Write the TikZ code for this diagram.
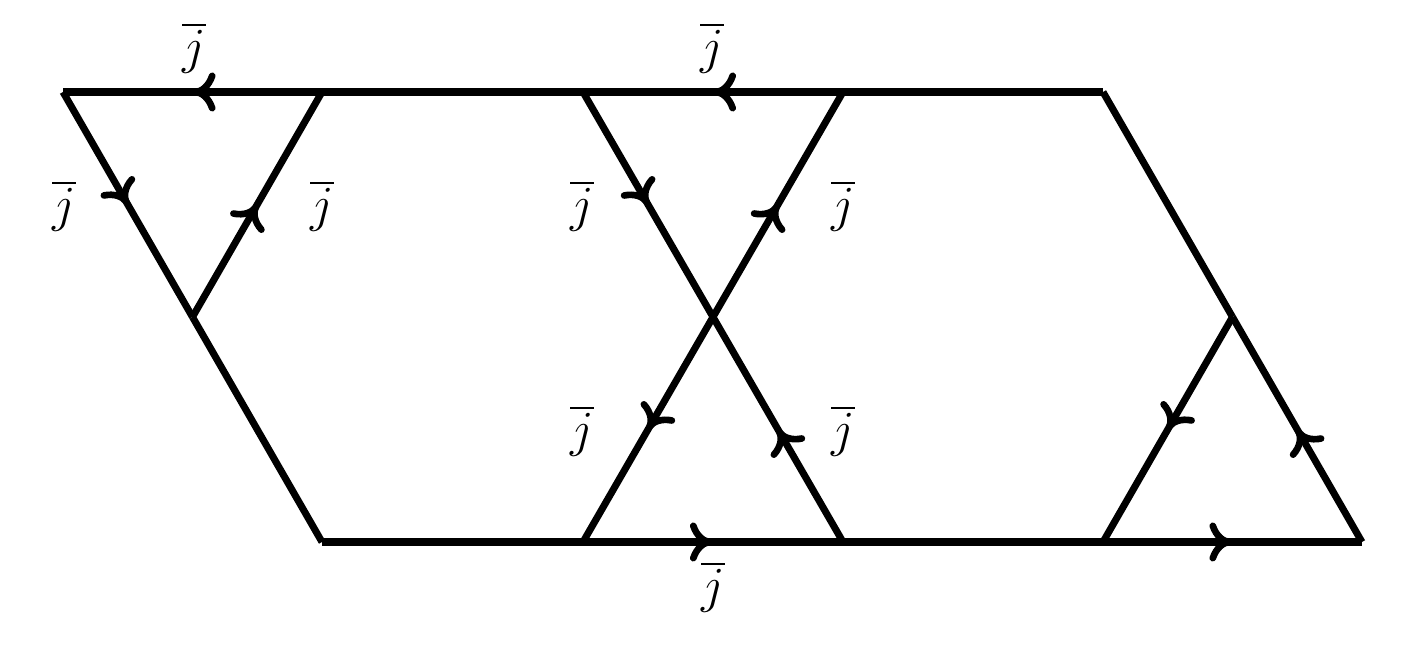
\documentclass[tikz,border=0pt]{standalone}
\usetikzlibrary{decorations.markings}
\begin{document}
\begin{tikzpicture}[x=1cm,y=1cm,
  edge/.style={line width=2pt},
  flow/.style={edge,postaction={decorate},decoration={markings,
      mark=at position #1 with {\draw[line width=1.9pt,line cap=round]
        (-5.6pt,4.6pt) .. controls (-4.6pt,1.6pt) and (-2.6pt,0.2pt) .. (-1pt,0)
        .. controls (-2.6pt,-0.2pt) and (-4.6pt,-1.6pt) .. (-5.6pt,-4.6pt);}}},
  flow/.default=0.5,
  lab/.style={font=\fontsize{14.4}{17}\selectfont, inner sep=0pt}]
\useasboundingbox (0,0) rectangle (14.10,6.49);
% vertices
\coordinate (T0) at (0.63,5.57);
\coordinate (T1) at (3.22,5.57);
\coordinate (T2) at (5.83,5.57);
\coordinate (T3) at (8.43,5.57);
\coordinate (T4) at (11.03,5.57);
\coordinate (B0) at (3.22,1.07);
\coordinate (B1) at (5.83,1.07);
\coordinate (B2) at (8.43,1.07);
\coordinate (B3) at (11.03,1.07);
\coordinate (B4) at (13.62,1.07);
\coordinate (M0) at (1.925,3.32);
\coordinate (M1) at (7.13,3.32);
\coordinate (M2) at (12.325,3.32);
% plain edges
\draw[edge] (T1) -- (T2);
\draw[edge] (T3) -- (T4);
\draw[edge] (M0) -- (B0);
\draw[edge] (B0) -- (B1);
\draw[edge] (B2) -- (B3);
\draw[edge] (T4) -- (M2);
% oriented edges
\draw[flow] (T1) -- (T0);
\draw[flow] (T3) -- (T2);
\draw[flow] (T0) -- (M0);
\draw[flow] (M0) -- (T1);
\draw[flow] (T2) -- (M1);
\draw[flow] (M1) -- (T3);
\draw[flow] (M1) -- (B1);
\draw[flow] (B2) -- (M1);
\draw[flow] (M2) -- (B3);
\draw[flow] (B4) -- (M2);
\draw[flow] (B1) -- (B2);
\draw[flow] (B3) -- (B4);
% labels
\node[lab] (l1) at (1.94,6.01) {$\overline{j}$};
\node[lab] (l2) at (7.12,6.01) {$\overline{j}$};
\node[lab] (l3) at (0.64,4.43) {$\overline{j}$};
\node[lab] (l4) at (3.22,4.43) {$\overline{j}$};
\node[lab] (l5) at (5.82,4.43) {$\overline{j}$};
\node[lab] (l6) at (8.43,4.43) {$\overline{j}$};
\node[lab] (l7) at (5.82,2.18) {$\overline{j}$};
\node[lab] (l8) at (8.43,2.18) {$\overline{j}$};
\node[lab] (l9) at (7.13,0.62) {$\overline{j}$};
\end{tikzpicture}
\end{document}
